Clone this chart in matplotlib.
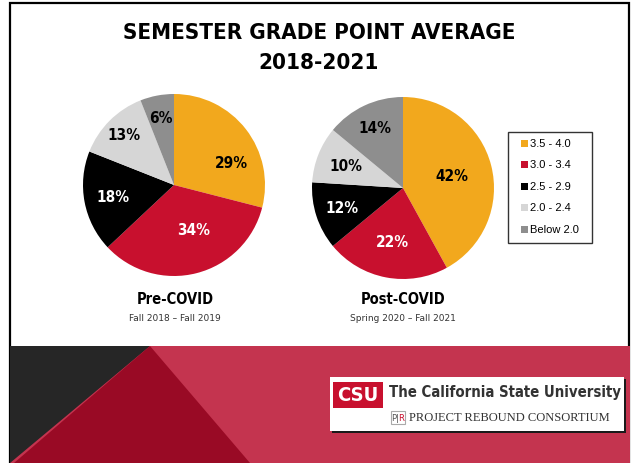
import matplotlib
matplotlib.use("Agg")
import matplotlib.pyplot as plt
import numpy as np
from matplotlib.patches import Rectangle, Polygon

# Dados
faixas = ["3.5 - 4.0", "3.0 - 3.4", "2.5 - 2.9", "2.0 - 2.4", "Below 2.0"]
pre_covid = [29, 34, 18, 13, 6]
post_covid = [42, 22, 12, 10, 14]
cores = ["#F2A81D", "#C8102E", "#000000", "#D6D6D6", "#8E8E8E"]
cor_texto = ["black", "white", "white", "black", "black"]

# posicao dos rotulos (fracao do raio, desvio de angulo em graus)
dist_pre = [0.68, 0.53, 0.68, 0.78, 0.75]
desvio_pre = [-16, 9, 0, 0, 0]
dist_post = [0.56, 0.6, 0.7, 0.68, 0.73]
desvio_post = [0, 0, 0, 0, 0]

W, H = 634, 464
fig = plt.figure(figsize=(W / 100, H / 100), dpi=100)
fig.patch.set_facecolor("white")

CONDENSADA = dict(family="DejaVu Sans", fontstretch="condensed")

# eixo de fundo em pixels
bg = fig.add_axes([0, 0, 1, 1])
bg.set_xlim(0, W)
bg.set_ylim(H, 0)
bg.axis("off")

# moldura
bg.add_patch(Rectangle((10, 4), 619, 460, fill=False, ec="black", lw=1.6))

# faixa inferior
bg.add_patch(Rectangle((10, 347), 620, 117, fc="#C4344F", ec="none"))
bg.add_patch(Polygon([(10, 347), (150, 347), (10, 464)], fc="#262626", ec="none"))
bg.add_patch(Polygon([(150, 347), (250, 464), (14, 464)], fc="#990A25", ec="none"))

# logo
bg.add_patch(Rectangle((332, 380), 294, 54, fc="#1a1a1a", ec="none"))
bg.add_patch(Rectangle((330, 378), 294, 54, fc="white", ec="none"))
bg.add_patch(Rectangle((333, 383), 50, 26, fc="#C8102E", ec="none"))
bg.text(358, 396, "CSU", color="white", fontsize=14.5, fontweight="bold",
        ha="center", va="center", **CONDENSADA)
bg.text(389, 393, "The California State University", color="#333333", fontsize=10.7,
        fontweight="bold", ha="left", va="center", **CONDENSADA)
bg.add_patch(Rectangle((391, 412), 14, 13, fc="white", ec="#aaaaaa", lw=0.8))
bg.text(395, 418.5, "P|", color="#555555", fontsize=6, ha="center", va="center")
bg.text(401, 418.5, "R", color="#C8102E", fontsize=6, ha="center", va="center")
bg.text(409, 418.5, "PROJECT REBOUND CONSORTIUM", color="#333333", fontsize=9,
        family="Liberation Serif", ha="left", va="center")

# titulo
bg.text(319, 33, "SEMESTER GRADE POINT AVERAGE", fontsize=16, fontweight="bold",
        ha="center", va="center", **CONDENSADA)
bg.text(319, 63, "2018-2021", fontsize=16, fontweight="bold",
        ha="center", va="center", **CONDENSADA)

# rotulos das pizzas
bg.text(175, 300, "Pre-COVID", fontsize=10.5, fontweight="bold",
        ha="center", va="center", **CONDENSADA)
bg.text(175, 319, "Fall 2018 \u2013 Fall 2019", fontsize=6.5, color="#333333",
        ha="center", va="center")
bg.text(403, 300, "Post-COVID", fontsize=10.5, fontweight="bold",
        ha="center", va="center", **CONDENSADA)
bg.text(403, 319, "Spring 2020 \u2013 Fall 2021", fontsize=6.5, color="#333333",
        ha="center", va="center")


def desenha_pizza(cx, cy, r, valores, dist, desvio):
    ax = fig.add_axes([(cx - r) / W, (H - cy - r) / H, 2 * r / W, 2 * r / H])
    wedges, _ = ax.pie(valores, colors=cores, startangle=90, counterclock=False,
                       radius=1, wedgeprops=dict(lw=0))
    for w, v, c, d, dv in zip(wedges, valores, cor_texto, dist, desvio):
        ang = np.deg2rad((w.theta1 + w.theta2) / 2 + dv)
        ax.text(d * np.cos(ang), d * np.sin(ang), f"{v}%", color=c, fontsize=11,
                fontweight="bold", ha="center", va="center", **CONDENSADA)
    ax.set_xlim(-1, 1)
    ax.set_ylim(-1, 1)
    return ax


desenha_pizza(174, 186, 91, pre_covid, dist_pre, desvio_pre)
desenha_pizza(403, 189, 91, post_covid, dist_post, desvio_post)

# legenda
bg.add_patch(Rectangle((508, 133), 84, 111, fc="white", ec="#333333", lw=1))
for i, (nome, cor) in enumerate(zip(faixas, cores)):
    y = 144 + i * 21.5
    bg.add_patch(Rectangle((521, y - 3.5), 7, 7, fc=cor, ec="none"))
    bg.text(530, y, nome, fontsize=8, ha="left", va="center", family="Liberation Sans")

fig.savefig("out.png", dpi=100)
